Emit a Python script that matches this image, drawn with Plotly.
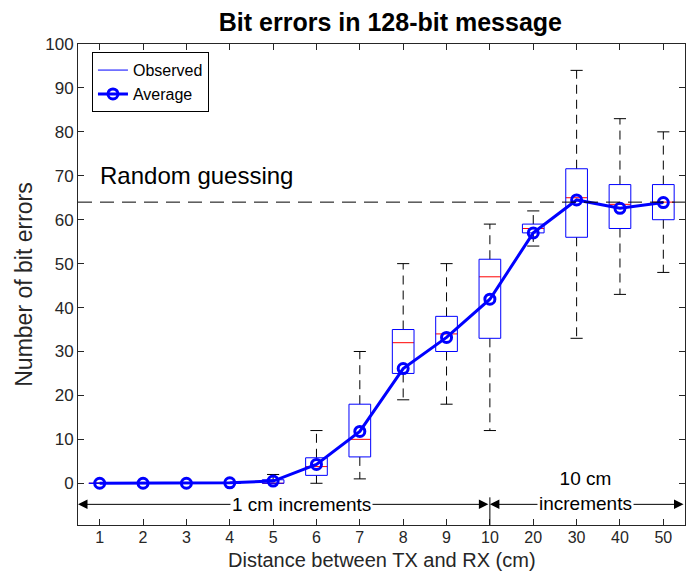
import plotly.graph_objects as go

# distance categories (cm) and the per-distance statistics
distances = ["1", "2", "3", "4", "5", "6", "7", "8", "9", "10", "20", "30", "40", "50"]
lower_whisker = [0, 0, 0, 0, 0, 0, 1, 19, 18, 12, 54, 33, 43, 48]
q1 = [0, 0, 0, 0, 0, 1.8, 6, 25, 30, 33, 57, 56, 58, 60]
median = [0, 0, 0, 0, 0, 3.8, 10, 32, 34, 47, 58, 65, 63.5, 64]
q3 = [0, 0, 0, 0, 0.8, 5.8, 18, 35, 38, 51, 59, 71.6, 68, 68]
upper_whisker = [0, 0, 0, 0, 2, 12, 30, 50, 50, 59, 62, 94, 83, 80]
average = [0, 0, 0, 0.1, 0.5, 4.3, 11.8, 26.1, 33.2, 41.9, 57, 64.5, 62.6, 63.9]

random_guess = 64
y_ticks = list(range(0, 101, 10))

FONT = "Liberation Sans, Arial, sans-serif"
BLUE = "#0000ff"

pos = list(range(1, len(distances) + 1))
box_half = 0.25
cap_half = 0.14


def segments(pairs):
    xs, ys = [], []
    for (xa, ya), (xb, yb) in pairs:
        xs += [xa, xb, None]
        ys += [ya, yb, None]
    return xs, ys


fig = go.Figure()

# whiskers (dashed)
wx, wy = segments(
    [((p, q), (p, lo)) for p, q, lo in zip(pos, q1, lower_whisker)]
    + [((p, q), (p, hi)) for p, q, hi in zip(pos, q3, upper_whisker)]
)
fig.add_trace(go.Scatter(x=wx, y=wy, mode="lines", showlegend=False, hoverinfo="skip",
                         line=dict(color="black", width=1, dash="9px,6px")))

# whisker caps
cx, cy = segments(
    [((p - cap_half, v), (p + cap_half, v)) for p, v in zip(pos, lower_whisker)]
    + [((p - cap_half, v), (p + cap_half, v)) for p, v in zip(pos, upper_whisker)]
)
fig.add_trace(go.Scatter(x=cx, y=cy, mode="lines", showlegend=False, hoverinfo="skip",
                         line=dict(color="black", width=1)))

# medians
mx, my = segments([((p - box_half, m), (p + box_half, m)) for p, m in zip(pos, median)])
fig.add_trace(go.Scatter(x=mx, y=my, mode="lines", showlegend=False, hoverinfo="skip",
                         line=dict(color="red", width=1)))

# boxes
bx, by = [], []
for p, a, b in zip(pos, q1, q3):
    bx += [p - box_half, p + box_half, p + box_half, p - box_half, p - box_half, None]
    by += [a, a, b, b, a, None]
fig.add_trace(go.Scatter(x=bx, y=by, mode="lines", name="Observed",
                         line=dict(color=BLUE, width=1)))

# average line
fig.add_trace(go.Scatter(
    x=pos, y=average, mode="lines+markers", name="Average",
    line=dict(color=BLUE, width=3),
    marker=dict(symbol="circle-open", size=10, color=BLUE, line=dict(width=3, color=BLUE)),
))

fig.add_hline(y=random_guess, line=dict(color="black", width=1, dash="14px,8px"))

fig.add_annotation(x=1, y=random_guess + 6, text="Random guessing", showarrow=False,
                   xanchor="left", yanchor="middle", xshift=-2,
                   font=dict(size=24, color="black"))

# bottom increment arrows
arrow_y = -4.8
split = distances.index("10") + 1
for x0, x1 in [(0.5, split), (split, len(distances) + 0.5)]:
    fig.add_annotation(x=x0, y=arrow_y, ax=x1, ay=arrow_y, axref="x", ayref="y",
                       text="", showarrow=True, arrowhead=2, arrowside="end+start",
                       arrowsize=1.9, arrowwidth=1, arrowcolor="black")
fig.add_shape(type="line", x0=split, x1=split, y0=-3.2, y1=-9.5,
              line=dict(color="black", width=1))
fig.add_annotation(x=5.65, y=arrow_y, text="1 cm increments", showarrow=False,
                   bgcolor="white", font=dict(size=19, color="black"))
fig.add_annotation(x=12.2, y=arrow_y, text="10 cm<br>increments", showarrow=False,
                   bgcolor="white", yanchor="bottom", yshift=-12,
                   font=dict(size=19, color="black"))

# x title as a paper annotation so it sits on the bottom edge like the original
fig.add_annotation(x=0.5, y=0, xref="paper", yref="paper", yanchor="bottom",
                   yshift=-47, showarrow=False, borderpad=0,
                   text="Distance between TX and RX (cm)",
                   font=dict(size=20, color="#262626"))

# page body adds an 8px offset, so the figure is 8px smaller and margins shifted
fig.update_layout(
    width=689, height=563,
    margin=dict(l=70, r=12, t=36, b=46),
    paper_bgcolor="white", plot_bgcolor="white",
    font=dict(family=FONT, size=17, color="#262626"),
    title=dict(text="<b>Bit errors in 128-bit message</b>", x=0.555, xanchor="center",
               y=0.975, yanchor="middle", font=dict(size=25, color="black")),
    legend=dict(x=0.023, y=0.983, xanchor="left", yanchor="top",
                bordercolor="black", borderwidth=1, bgcolor="white",
                font=dict(size=16, color="black"), tracegroupgap=0,
                itemwidth=30),
    showlegend=True,
)
fig.update_xaxes(
    range=[0.5, len(distances) + 0.5], tickmode="array", tickvals=pos, ticktext=distances,
    ticks="inside", ticklen=6, tickcolor="#262626", showgrid=False, zeroline=False,
    showline=True, linecolor="#262626", linewidth=1, mirror="ticks", automargin=False,
    tickfont=dict(size=16), ticklabelstandoff=-2,
)
fig.update_yaxes(
    range=[-9.5, 100], tickmode="array", tickvals=y_ticks,
    ticks="inside", ticklen=6, tickcolor="#262626", showgrid=False, zeroline=False,
    showline=True, linecolor="#262626", linewidth=1, mirror="ticks", automargin=False,
    title=dict(text="Number of bit errors", font=dict(size=23), standoff=6),
)

fig.write_html("out.html")
